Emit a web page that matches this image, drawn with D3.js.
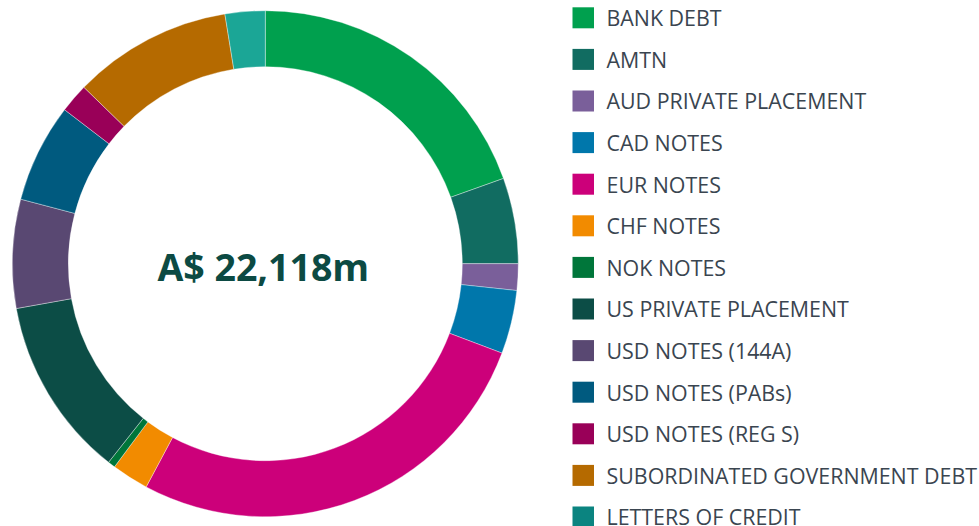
<!DOCTYPE html>
<html><head><meta charset="utf-8">
<script src="https://cdn.jsdelivr.net/npm/d3@7"></script>
<style>html,body{margin:0;padding:0;background:#fff;}svg{display:block;}</style>
</head><body>
<svg id="chart" width="979" height="526"></svg>
<script>
const categories = ["BANK DEBT","AMTN","AUD PRIVATE PLACEMENT","CAD NOTES","EUR NOTES","CHF NOTES","NOK NOTES","US PRIVATE PLACEMENT","USD NOTES (144A)","USD NOTES (PABs)","USD NOTES (REG S)","SUBORDINATED GOVERNMENT DEBT","LETTERS OF CREDIT"];
const values = [4319,1210,375,897,5984,522,104,2550,1536,1395,412,2249,565];
const legendColors = ["#00a04e","#116c61","#7a5f9a","#0077ab","#cc007a","#f28b00","#00763a","#0c4d46","#594872","#005a7f","#990058","#b56a00","#0b8480"];
const sliceColors = ["#00a04e","#116c61","#7a5f9a","#0077ab","#cc007a","#f28b00","#00763a","#0c4d46","#594872","#005a7f","#990058","#b56a00","#1ba696"];
const centerLabel = "A$ 22,118m";

const svg = d3.select("#chart");
const cx = 265.3, cy = 263.7, R = 253, r = 197;
const data = categories.map((c,i)=>({name:c,value:values[i],i}));
const pie = d3.pie().sort(null).value(d=>d.value);
const arc = d3.arc().innerRadius(r).outerRadius(R);
const g = svg.append("g").attr("transform",`translate(${cx},${cy})`);
g.selectAll("path").data(pie(data)).join("path")
  .attr("d",arc).attr("fill",d=>sliceColors[d.data.i])
  .attr("stroke","rgba(255,255,255,0.6)").attr("stroke-width",0.6);
g.append("text").attr("x",-2).attr("y",17).attr("text-anchor","middle")
  .attr("font-family","'Open Sans'").attr("font-weight",700).attr("font-size",37.5)
  .attr("fill","#0c4a43").text(centerLabel);

const ly = d3.scaleBand().domain(categories).range([7.3, 7.3+41.6*13]);
const lg = svg.append("g");
const row = lg.selectAll("g").data(data).join("g").attr("transform",d=>`translate(572.5,${ly(d.name)})`);
row.append("rect").attr("width",21.5).attr("height",21).attr("fill",d=>legendColors[d.i]);
row.append("text").attr("x",34).attr("y",18.8).attr("font-family","'Open Sans'").attr("font-size",21.4)
  .attr("fill","#3a4550").text(d=>d.name);
</script>
</body></html>
